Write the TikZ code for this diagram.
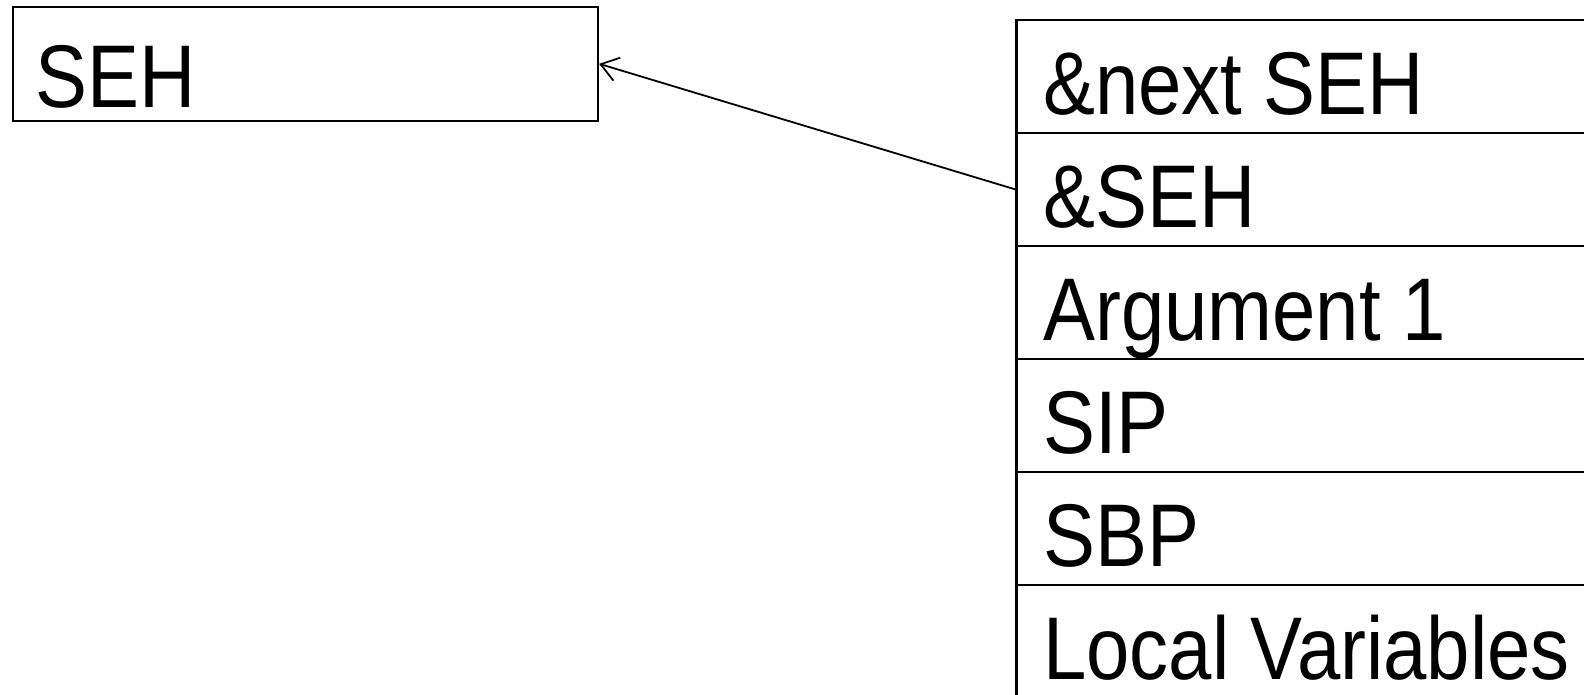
\documentclass[tikz,border=0pt]{standalone}
\usepackage{fontspec}
\setmainfont[FakeStretch=0.875]{Liberation Sans}
\usetikzlibrary{arrows.meta}
\begin{document}
\begin{tikzpicture}[x=1pt,y=-1pt,
  cell/.style={draw, line width=2.6pt, rectangle, anchor=north west, minimum width=#1, minimum height=113pt, inner sep=0pt},
  lbl/.style={anchor=base west, inner sep=0pt, font=\fontsize{89}{107}\selectfont},
  conn/.style={line width=1.8pt, -{Straight Barb[length=17pt,width=24pt,line width=1.8pt]}}]
\useasboundingbox (0,0) rectangle (1584,694);
\clip (0,0) rectangle (1584,694);
\node[cell=585pt, minimum height=114pt] (seh) at (11.5,5.5) {};
\node[lbl] (sehT) at (35.5,107.5) {SEH};
\foreach \i/\t in {0/\&next SEH,1/\&SEH,2/Argument 1,3/SIP,4/SBP,5/Local Variables}{
  \node[cell=640pt] (r\i) at (1015,18.5+113*\i) {};
  \node[lbl] (t\i) at (1043,114.5+113*\i) {\t};
}
\draw[conn] (r1.west) -- (seh.east);
\end{tikzpicture}
\end{document}
